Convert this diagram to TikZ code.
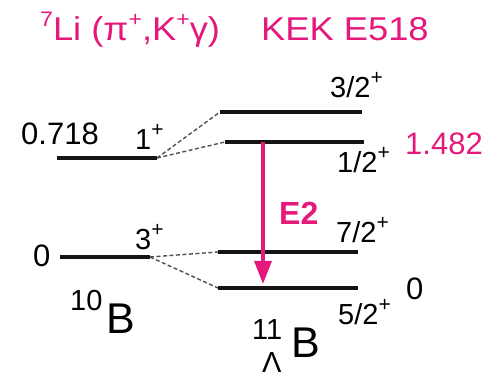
\documentclass[tikz,border=0pt]{standalone}
\usepackage{fontspec}
\setmainfont{Liberation Sans}
\usetikzlibrary{arrows.meta}
\definecolor{magen}{HTML}{E5197B}
\definecolor{dunkel}{HTML}{151515}
\definecolor{strich}{HTML}{505050}
\newcommand\hoch[1]{\raisebox{0.45em}{\fontsize{21}{21}\selectfont #1}}
\newcommand\breit[1]{\scalebox{1.1}[1]{#1}}
\tikzset{
  niveau/.style={dunkel,line width=3.2pt},
  verb/.style={strich,line width=1.4pt,dash pattern=on 4pt off 2.5pt},
  gampfeil/.style={-{Triangle[length=23pt,width=17pt]},magen,line width=3.2pt},
  lab/.style={anchor=base west,inner sep=0pt,font=\fontsize{29}{31}\selectfont},
  wert/.style={lab,font=\fontsize{31}{33}\selectfont},
  titel/.style={lab,magen,font=\fontsize{33}{35}\selectfont},
}

\begin{document}
\begin{tikzpicture}[x=1pt,y=-1pt]
  \useasboundingbox (0,0) rectangle (491,374);
  % title
  \node[titel] (reak) at (40,41) {\breit{\hoch{7}Li (π\hoch{+},K\hoch{+}γ)}};
  \node[titel] (expt) at (261,41) {\breit{KEK E518}};
  % 10B levels
  \coordinate (a1l) at (57,158);  \coordinate (a1r) at (157,158);
  \coordinate (a0l) at (60,257);  \coordinate (a0r) at (150,257);
  \draw[niveau] (a1l) -- (a1r);
  \draw[niveau] (a0l) -- (a0r);
  % 11LB levels
  \coordinate (b3l) at (220,112); \coordinate (b3r) at (362,112);
  \coordinate (b1l) at (225,142); \coordinate (b1r) at (364,142);
  \coordinate (b7l) at (218,252); \coordinate (b7r) at (358,252);
  \coordinate (b5l) at (218,288); \coordinate (b5r) at (358,288);
  \draw[niveau] (b3l) -- (b3r);
  \draw[niveau] (b1l) -- (b1r);
  \draw[niveau] (b7l) -- (b7r);
  \draw[niveau] (b5l) -- (b5r);
  % doublet splitting
  \draw[verb] (a1r) -- (b3l);
  \draw[verb] (a1r) -- (b1l);
  \draw[verb] (a0r) -- (b7l);
  \draw[verb] (a0r) -- (b5l);
  % gamma transition
  \coordinate (gob) at (263,142);
  \coordinate (gun) at (263,284);
  \draw[gampfeil] (gob) -- (gun);
  \node[lab,magen,font=\fontsize{32}{34}\selectfont\bfseries] (etwo) at (279,225) {E2};
  % labels 10B
  \node[wert] (ea1) at (21,145) {0.718};
  \node[lab] (ja1) at (135,150) {1\hoch{+}};
  \node[wert] (ea0) at (33,267) {0};
  \node[lab] (ja0) at (135,250) {3\hoch{+}};
  % labels 11LB
  \node[lab] (jb3) at (330,98) {3/2\hoch{+}};
  \node[lab] (jb1) at (337,173) {1/2\hoch{+}};
  \node[wert,magen] (eb1) at (405,155) {1.482};
  \node[lab] (jb7) at (336,243) {7/2\hoch{+}};
  \node[wert] (eb5) at (406,300) {0};
  \node[lab] (jb5) at (338,325) {5/2\hoch{+}};
  % nuclei
  \node[lab] (kb10) at (70,311) {10};
  \node[lab,font=\fontsize{43}{45}\selectfont] (kb10b) at (106,334) {B};
  \node[lab] (kb11) at (252,340) {11};
  \node[lab] (kb11l) at (262,373) {Λ};
  \node[lab,font=\fontsize{43}{45}\selectfont] (kb11b) at (291,358) {B};
\end{tikzpicture}
\end{document}
